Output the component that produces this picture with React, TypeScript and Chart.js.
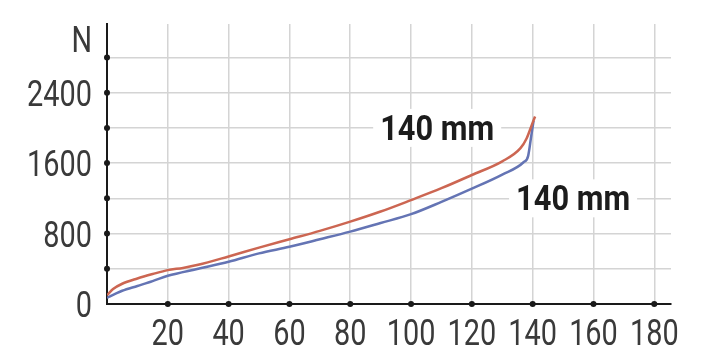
import React, { useEffect, useRef } from "react";
import { Chart, registerables } from "chart.js";

Chart.register(...registerables);

// Distance (mm) and force (N) readings
const redDistance = [0, 2, 5, 10, 15, 20, 25, 30, 40, 50, 60, 70, 80, 90, 100, 110, 120, 130, 136, 138, 140, 140.8];
const redForce = [100, 170, 230, 290, 340, 385, 410, 445, 540, 640, 735, 830, 935, 1050, 1180, 1315, 1465, 1620, 1770, 1880, 2060, 2130];

const blueDistance = [0, 3, 5, 10, 15, 20, 30, 40, 50, 60, 70, 80, 90, 100, 110, 120, 130, 137, 138.5, 139.5, 140.3];
const blueForce = [70, 120, 150, 205, 260, 320, 400, 480, 575, 650, 735, 822, 920, 1020, 1160, 1310, 1470, 1610, 1680, 1900, 2080];

const xTicks = [20, 40, 60, 80, 100, 120, 140, 160, 180];
const yTicks = [0, 400, 800, 1200, 1600, 2000, 2400, 2800];
const yLabelled = [0, 800, 1600, 2400];
const yUnit = "N";
const labelText = ["140 mm", "140 mm"];
const labelPos = [
  { x: 108.6, y: 2000 },
  { x: 153.3, y: 1200 },
];

const FONT = "Roboto, 'Noto Sans', sans-serif";
const SQUEEZE = 0.78;
const BOLD_SQUEEZE = 0.88;

function drawSqueezed(ctx: any, text: string, x: number, y: number, align: string, sx: number) {
  const w = ctx.measureText(text).width * sx;
  let left = x;
  if (align === "center") left = x - w / 2;
  else if (align === "right") left = x - w;
  ctx.save();
  ctx.translate(left, y);
  ctx.scale(sx, 1);
  ctx.textAlign = "left";
  ctx.fillText(text, 0, 0);
  ctx.restore();
  return w;
}

export default function App() {
  const ref = useRef<HTMLCanvasElement | null>(null);

  useEffect(() => {
    document.body.style.margin = "0";
    const canvas = ref.current;
    if (!canvas) return;

    const decor = {
      id: "decor",
      afterDraw(chart: any) {
        const ctx = chart.ctx;
        const xs = chart.scales.x;
        const ys = chart.scales.y;
        const area = chart.chartArea;
        ctx.save();
        // axis dots
        ctx.fillStyle = "#1a1a1a";
        yTicks.forEach((v) => {
          if (v === 0) return;
          ctx.beginPath();
          ctx.arc(area.left, ys.getPixelForValue(v), 3, 0, Math.PI * 2);
          ctx.fill();
        });
        xTicks.forEach((v) => {
          ctx.beginPath();
          ctx.arc(xs.getPixelForValue(v), area.bottom, 3, 0, Math.PI * 2);
          ctx.fill();
        });
        // tick labels
        ctx.fillStyle = "#3a3a3a";
        ctx.font = `37px ${FONT}`;
        ctx.textBaseline = "alphabetic";
        yLabelled.forEach((v) => {
          drawSqueezed(ctx, String(v), area.left - 15, ys.getPixelForValue(v) + 13, "right", SQUEEZE);
        });
        drawSqueezed(ctx, yUnit, area.left - 15, ys.getPixelForValue(3015) + 13, "right", SQUEEZE);
        xTicks.forEach((v) => {
          drawSqueezed(ctx, String(v), xs.getPixelForValue(v), area.bottom + 41, "center", SQUEEZE);
        });
        // annotations
        ctx.font = `bold 35px ${FONT}`;
        labelText.forEach((t, i) => {
          const px = xs.getPixelForValue(labelPos[i].x);
          const py = ys.getPixelForValue(labelPos[i].y);
          const w = ctx.measureText(t).width * BOLD_SQUEEZE;
          ctx.fillStyle = "#ffffff";
          ctx.fillRect(px - w / 2 - 7, py - 19, w + 14, 38);
          ctx.fillStyle = "#1c1c1c";
          drawSqueezed(ctx, t, px, py + 12, "center", BOLD_SQUEEZE);
        });
        ctx.restore();
      },
    };

    const chart = new Chart(canvas, {
      type: "line",
      data: {
        datasets: [
          {
            label: "red",
            data: redDistance.map((x, i) => ({ x, y: redForce[i] })),
            borderColor: "#cc6652",
            borderWidth: 2.5,
            pointRadius: 0,
            cubicInterpolationMode: "monotone",
            fill: false,
          },
          {
            label: "blue",
            data: blueDistance.map((x, i) => ({ x, y: blueForce[i] })),
            borderColor: "#6474b4",
            borderWidth: 2.5,
            pointRadius: 0,
            cubicInterpolationMode: "monotone",
            fill: false,
          },
        ],
      },
      options: {
        animation: false,
        responsive: false,
        maintainAspectRatio: false,
        layout: { padding: { top: 24, right: 41, left: 0, bottom: 0 } },
        plugins: { legend: { display: false }, tooltip: { enabled: false } },
        scales: {
          x: {
            type: "linear",
            min: 0,
            max: 185.5,
            afterBuildTicks: (s: any) => {
              s.ticks = xTicks.map((v) => ({ value: v }));
            },
            afterFit: (s: any) => {
              s.height = 59;
            },
            grid: { color: "#d4d4d4", lineWidth: 1.5, drawTicks: false },
            border: { color: "#1a1a1a", width: 2 },
            ticks: { display: false },
          },
          y: {
            type: "linear",
            min: 0,
            max: 3180,
            afterBuildTicks: (s: any) => {
              s.ticks = yTicks.map((v) => ({ value: v }));
            },
            afterFit: (s: any) => {
              s.width = 107;
            },
            grid: {
              color: (c: any) => (c.tick && c.tick.value === 0 ? "rgba(0,0,0,0)" : "#d4d4d4"),
              lineWidth: 1.5,
              drawTicks: false,
            },
            border: { color: "#1a1a1a", width: 2 },
            ticks: { display: false },
          },
        },
      },
      plugins: [decor],
    });

    return () => chart.destroy();
  }, []);

  return (
    <div style={{ position: "absolute", left: 0, top: 0, width: 712, height: 363, background: "#fff" }}>
      <canvas ref={ref} width={712} height={363} />
    </div>
  );
}
